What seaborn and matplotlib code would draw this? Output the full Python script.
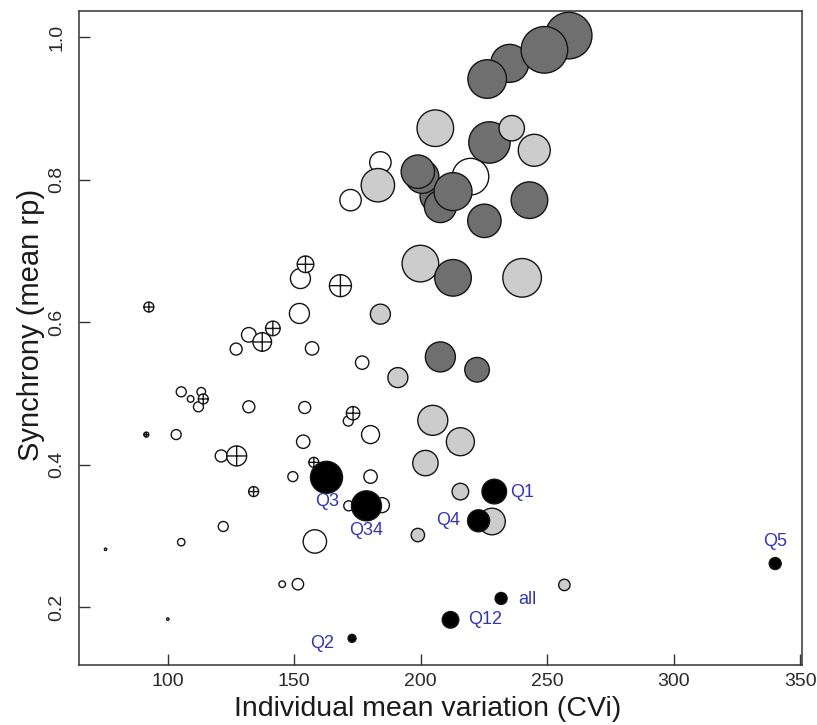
import numpy as np
import pandas as pd
import matplotlib
matplotlib.use("Agg")
import matplotlib.pyplot as plt
from matplotlib.path import Path
import seaborn as sns

# ---------------- data ----------------
# open / crossed circles
open_cvi = [75.5, 100.1, 92.6, 91.6, 103.4, 105.4, 109.1, 113.3, 112.2, 114.1,
            105.4, 122.0, 121.2, 127.3, 127.1, 132.1, 137.4, 141.6, 132.1, 134.0,
            145.3, 151.5, 149.5, 153.6, 154.2, 157.8, 158.2, 152.1, 152.5, 154.5,
            157.1, 168.3, 172.3, 184.1, 176.9, 171.4, 173.3, 180.2, 180.2, 171.6,
            184.7, 219.7]
open_rp = [0.281, 0.183, 0.621, 0.442, 0.442, 0.502, 0.492, 0.502, 0.481, 0.492,
           0.291, 0.313, 0.412, 0.412, 0.562, 0.582, 0.572, 0.591, 0.481, 0.362,
           0.232, 0.232, 0.383, 0.432, 0.480, 0.403, 0.292, 0.612, 0.661, 0.681,
           0.563, 0.651, 0.771, 0.824, 0.543, 0.461, 0.472, 0.442, 0.383, 0.342,
           0.343, 0.804]
open_w = [1.2, 1.2, 5, 2.5, 5, 5, 3.3, 4.3, 5, 5,
          3.7, 5, 6, 10, 6, 7.3, 9.3, 7.3, 6, 5,
          3.3, 5.7, 5, 6.7, 6, 5, 11.7, 10, 10, 8.3,
          6.7, 11, 10.7, 10.7, 6.7, 5, 6.7, 9, 6.7, 5,
          7.5, 18.3]
open_cross = [0, 0, 1, 1, 0, 0, 0, 0, 0, 1,
              0, 0, 0, 1, 0, 0, 1, 1, 0, 1,
              0, 0, 0, 0, 0, 1, 0, 0, 0, 1,
              0, 1, 0, 0, 0, 0, 1, 0, 0, 0,
              0, 0]

# light grey circles
light_cvi = [205.8, 244.9, 183.1, 199.9, 240.1, 184.1, 191.0, 204.8, 215.7, 201.9,
             215.7, 228.2, 198.9, 256.8]
light_rp = [0.872, 0.841, 0.792, 0.682, 0.662, 0.611, 0.522, 0.462, 0.432, 0.402,
            0.362, 0.320, 0.301, 0.231]
light_w = [18.3, 16, 16.7, 18.3, 19.3, 10, 10, 15, 14, 12.7,
           8.3, 13.3, 6.7, 5.7]

# dark grey circles
dark_cvi = [258.5, 235.2, 248.9, 226.3, 227.2, 206.2, 207.8, 200.6, 198.9, 212.8,
            243.0, 225.2, 212.8, 207.8, 222.3]
dark_rp = [1.002, 0.963, 0.982, 0.941, 0.852, 0.777, 0.762, 0.804, 0.811, 0.783,
           0.771, 0.742, 0.662, 0.551, 0.533]
dark_w = [23.3, 19, 23.3, 19.3, 20.7, 16.3, 16, 16.7, 16.7, 19,
          18.3, 16.7, 18.3, 15, 12.3]

# light grey circle drawn over the dark ones
light2_cvi = [236.0]
light2_rp = [0.872]
light2_w = [12.7]

# black (labelled) points
black_lab = ["Q3", "Q34", "Q1", "Q4", "all", "Q12", "Q2", "Q5"]
black_cvi = [162.8, 178.6, 229.1, 222.9, 231.8, 211.8, 172.9, 340.1]
black_rp = [0.382, 0.342, 0.362, 0.321, 0.212, 0.182, 0.156, 0.261]
black_w = [16, 15, 12.3, 11, 6, 8.3, 4, 6]

# ---------------- build table ----------------
rows = []
for x, y, w, c in zip(open_cvi, open_rp, open_w, open_cross):
    rows.append((x, y, w, "open", "crossed" if c else "circle"))
for x, y, w in zip(light_cvi, light_rp, light_w):
    rows.append((x, y, w, "light", "circle"))
for x, y, w in zip(dark_cvi, dark_rp, dark_w):
    rows.append((x, y, w, "dark", "circle"))
for x, y, w in zip(light2_cvi, light2_rp, light2_w):
    rows.append((x, y, w, "light", "circle"))
for x, y, w in zip(black_cvi, black_rp, black_w):
    rows.append((x, y, w, "black", "circle"))
df = pd.DataFrame(rows, columns=["cvi", "rp", "w", "group", "kind"])
df["area"] = (2 * 0.72 * df["w"]) ** 2

# ---------------- style ----------------
sns.set_theme(style="white")
plt.rcParams["font.family"] = ["Liberation Sans", "DejaVu Sans"]

fig = plt.figure(figsize=(8.17, 7.25), dpi=100)
ax = fig.add_axes([79 / 817, 1 - 665 / 725, (802 - 79) / 817, (665 - 11) / 725])

circ = Path.unit_circle()
cross = Path([(-1, 0), (1, 0), (0, -1), (0, 1)],
             [Path.MOVETO, Path.LINETO, Path.MOVETO, Path.LINETO])
crossed_marker = Path.make_compound_path(circ, cross)

palette = {"open": "#ffffff", "light": "#cccccc", "dark": "#6f6f6f", "black": "#000000"}
amin, amax = df["area"].min(), df["area"].max()

sns.scatterplot(data=df, x="cvi", y="rp", hue="group", palette=palette,
                size="area", sizes=(amin, amax), size_norm=(amin, amax),
                style="kind", markers={"circle": "o", "crossed": crossed_marker},
                edgecolor="#151515", linewidth=1.0, alpha=1, legend=False, ax=ax)

# labels for black points
offsets = {"Q3": (0.5, -17.5), "Q34": (0, -18), "Q1": (20, -0.7), "Q4": (-21.6, 0),
           "all": (19, -0.7), "Q12": (25, 0), "Q2": (-21.6, -3.8), "Q5": (0, 15.6)}
for lab, x, y in zip(black_lab, black_cvi, black_rp):
    ax.annotate(lab, (x, y), xytext=offsets[lab], textcoords="offset points",
                ha="center", va="center", color="#3535b0", fontsize=13)

ax.set_xlim(65.0, 350.7)
ax.set_ylim(0.1186, 1.0365)
ax.set_xticks([100, 150, 200, 250, 300, 350])
ax.set_yticks([0.2, 0.4, 0.6, 0.8, 1.0])
ax.set_xticklabels(["100", "150", "200", "250", "300", "350"])
ax.set_yticklabels(["0.2", "0.4", "0.6", "0.8", "1.0"])

for s in ax.spines.values():
    s.set_visible(True)
    s.set_color("#333333")
    s.set_linewidth(1.1)

ax.tick_params(axis="both", which="major", direction="in", length=8, width=1.0,
               color="#333333", labelsize=14, labelcolor="#2a2a2a",
               bottom=True, left=True, top=False, right=False)
ax.tick_params(axis="x", pad=5.5)
ax.tick_params(axis="y", pad=10, labelrotation=90)
for lbl in ax.get_yticklabels():
    lbl.set_va("center")

ax.set_xlabel("Individual mean variation (CVi)", fontsize=20.5, color="#1a1a1a", labelpad=3)
ax.set_ylabel("Synchrony (mean rp)", fontsize=21, color="#1a1a1a", labelpad=5)
ax.xaxis.set_label_coords(0.482, -0.048, transform=ax.transAxes)
ax.xaxis.label.set_va("top")
ax.yaxis.set_label_coords(-0.067, 0.52, transform=ax.transAxes)
ax.yaxis.label.set_va("center")

fig.savefig("out.png", dpi=100, facecolor="white")
